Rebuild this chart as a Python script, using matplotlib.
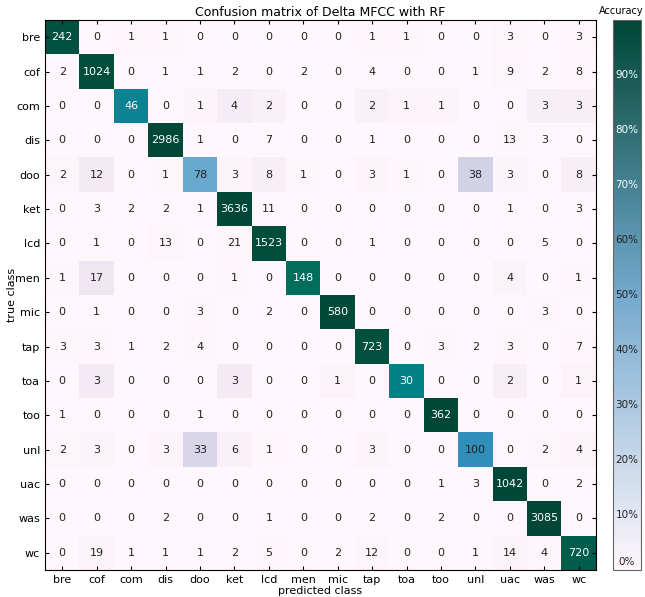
import matplotlib.pyplot as plt
import numpy as np
from matplotlib.colors import LinearSegmentedColormap, Normalize
from matplotlib.cm import ScalarMappable

# clases (true = filas, predicted = columnas)
clases = ['bre', 'cof', 'com', 'dis', 'doo', 'ket', 'lcd', 'men',
          'mic', 'tap', 'toa', 'too', 'unl', 'uac', 'was', 'wc']

fila_bre = [242, 0, 1, 1, 0, 0, 0, 0, 0, 1, 1, 0, 0, 3, 0, 3]
fila_cof = [2, 1024, 0, 1, 1, 2, 0, 2, 0, 4, 0, 0, 1, 9, 2, 8]
fila_com = [0, 0, 46, 0, 1, 4, 2, 0, 0, 2, 1, 1, 0, 0, 3, 3]
fila_dis = [0, 0, 0, 2986, 1, 0, 7, 0, 0, 1, 0, 0, 0, 13, 3, 0]
fila_doo = [2, 12, 0, 1, 78, 3, 8, 1, 0, 3, 1, 0, 38, 3, 0, 8]
fila_ket = [0, 3, 2, 2, 1, 3636, 11, 0, 0, 0, 0, 0, 0, 1, 0, 3]
fila_lcd = [0, 1, 0, 13, 0, 21, 1523, 0, 0, 1, 0, 0, 0, 0, 5, 0]
fila_men = [1, 17, 0, 0, 0, 1, 0, 148, 0, 0, 0, 0, 0, 4, 0, 1]
fila_mic = [0, 1, 0, 0, 3, 0, 2, 0, 580, 0, 0, 0, 0, 0, 3, 0]
fila_tap = [3, 3, 1, 2, 4, 0, 0, 0, 0, 723, 0, 3, 2, 3, 0, 7]
fila_toa = [0, 3, 0, 0, 0, 3, 0, 0, 1, 0, 30, 0, 0, 2, 0, 1]
fila_too = [1, 0, 0, 0, 1, 0, 0, 0, 0, 0, 0, 362, 0, 0, 0, 0]
fila_unl = [2, 3, 0, 3, 33, 6, 1, 0, 0, 3, 0, 0, 100, 0, 2, 4]
fila_uac = [0, 0, 0, 0, 0, 0, 0, 0, 0, 0, 0, 1, 3, 1042, 0, 2]
fila_was = [0, 0, 0, 2, 0, 0, 1, 0, 0, 2, 0, 2, 0, 0, 3085, 0]
fila_wc = [0, 19, 1, 1, 1, 2, 5, 0, 2, 12, 0, 0, 1, 14, 4, 720]

etiquetas_cbar = [0, 10, 20, 30, 40, 50, 60, 70, 80, 90]

cm = np.array([fila_bre, fila_cof, fila_com, fila_dis, fila_doo, fila_ket,
               fila_lcd, fila_men, fila_mic, fila_tap, fila_toa, fila_too,
               fila_unl, fila_uac, fila_was, fila_wc])

# normalizamos por fila para el color (accuracy)
cm_norm = cm / cm.sum(axis=1, keepdims=True)

fig = plt.figure(figsize=(6.45, 5.97), dpi=100)
ax = fig.add_axes([45 / 645, 27 / 597, 551 / 645, 550 / 597])
cax = fig.add_axes([613 / 645, 27 / 597, 28 / 645, 550 / 597])

ax.imshow(cm_norm, cmap='PuBuGn', vmin=0, vmax=1,
          interpolation='nearest', aspect='auto')

n = len(clases)
for i in range(n):
    for j in range(n):
        color = 'white' if cm_norm[i, j] > 0.66 else '#222222'
        ax.text(j, i, str(cm[i, j]), ha='center', va='center',
                fontsize=8, color=color)

ax.set_xticks(range(n))
ax.set_yticks(range(n))
ax.set_xticklabels(clases, fontsize=8)
ax.set_yticklabels(clases, fontsize=8)
ax.tick_params(direction='in', top=True, right=True, length=3, width=0.8)
ax.set_xlabel('predicted class', fontsize=8, labelpad=1)
ax.set_ylabel('true class', fontsize=8, labelpad=-1)
ax.set_title('Confusion matrix of Delta MFCC with RF', fontsize=9, pad=3)

# barra de color: degradado simple de 3 colores, etiquetas dentro
cmap_barra = LinearSegmentedColormap.from_list(
    'barra', ['#fff7fb', '#74a9cf', '#014636'])
cb = fig.colorbar(ScalarMappable(norm=Normalize(0, 1), cmap=cmap_barra),
                  cax=cax)
cb.set_ticks([])
cb.outline.set_edgecolor('#666666')
cb.outline.set_linewidth(0.8)
for v in etiquetas_cbar:
    y = v / 100 if v > 0 else 0.015
    c = 'white' if v >= 70 else '#222222'
    cax.text(0.5, y, f'{v}%', transform=cax.transAxes, ha='center',
             va='center', fontsize=7.5, color=c)
cax.text(0.3, 1.008, 'Accuracy', transform=cax.transAxes, ha='center',
         va='bottom', fontsize=7)

fig.savefig('out.png', dpi=100)
